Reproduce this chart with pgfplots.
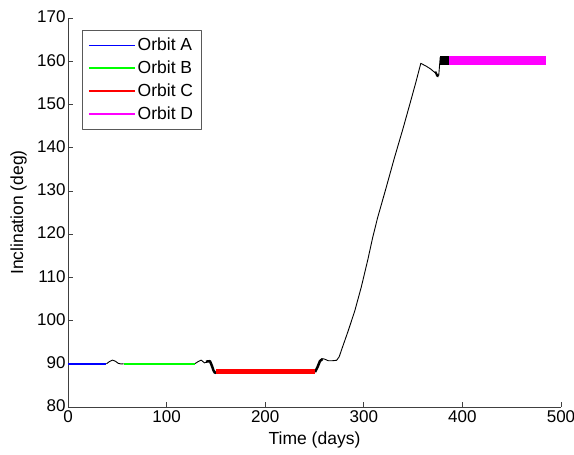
\documentclass[border=0pt]{standalone}
\usepackage{pgfplots}
\pgfplotsset{compat=1.18}
\usepackage{fontspec}
\setmainfont{Liberation Sans}
\definecolor{oA}{rgb}{0,0,1}
\definecolor{oB}{rgb}{0,1,0}
\definecolor{oC}{rgb}{1,0,0}
\definecolor{oD}{rgb}{1,0,1}
\begin{document}
\begin{tikzpicture}[font=\fontsize{17.5}{21}\selectfont]
\begin{axis}[
  scale only axis,
  width=493pt, height=389pt,
  xmin=0, xmax=500, ymin=80, ymax=170,
  clip=false,
  xtick={0,100,...,500}, ytick={80,90,...,170},
  axis x line*=bottom, axis y line*=left,
  axis line style={black!75},
  tick style={black!75, line width=0.6pt},
  major tick length=5pt,
  tick align=inside,
  /pgf/number format/assume math mode=true,
  ticklabel style={font=\fontsize{17}{20}\selectfont},
  xticklabel style={yshift=0pt},
  yticklabel style={xshift=1pt, yshift=1pt},
  label style={font=\fontsize{17.5}{21}\selectfont},
  xlabel={Time (days)},
  ylabel={Inclination (deg)},
  xlabel style={at={(axis description cs:0.5,-0.0848)}, anchor=center},
  ylabel style={at={(axis description cs:-0.1,0.5)}, anchor=center, rotate=0},
  legend style={at={(14/493,1-12/389)}, anchor=north west, draw=black!65,
    font=\fontsize{17.5}{21}\selectfont, inner xsep=6pt, inner ysep=6pt,
    row sep=4.7pt, cells={anchor=west}},
  legend image code/.code={\draw[#1, line width=1.5pt] (0pt,0pt) -- (46pt,0pt);},
  line cap=butt, line join=round,
]
\coordinate (O) at (rel axis cs:0,0);
% transfers (black)
\addplot[draw=black, line width=0.9pt, forget plot] coordinates {
 (39,90) (42,90.5) (45,90.85) (48,90.6) (51,90.1) (54,89.95) (56.5,90)};
\addplot[draw=black, line width=0.9pt, forget plot] coordinates {
 (128.5,90) (132,90.5) (135,90.85) (138.5,90.2) (141,90.5)};
\addplot[draw=black, line width=2.5pt, forget plot] coordinates {
 (140,90.5) (144,90.6) (146,89.5) (147.5,88.5) (149,87.9) (150.5,88.0)};
\addplot[draw=black, line width=2.5pt, forget plot] coordinates {
 (250.5,88.1) (253,89.2) (255.5,90.6) (258,91.1)};
\addplot[draw=black, line width=0.9pt, forget plot] coordinates {
 (257.4,91.2) (260,91.1) (264,90.7) (268,90.7) (272.4,90.8)
 (275,91.6) (277.4,93.2) (284,97.5) (290.8,102.2) (297.5,107.8)
 (304,114) (309,119.2) (314,123.8) (322,130.2) (331,137.6)
 (340,144.6) (347.7,150.9) (353,155.3) (357.8,159.5) (363,158.9)
 (367.8,158.2) (372,157.4) (376,156.7) (377.5,160.9)};
\addplot[draw=black, line width=2pt, forget plot] coordinates {
 (372.5,157.6) (374.5,156.6) (375.8,156.5)};
\addplot[draw=black, line width=9pt, forget plot] coordinates {
 (377.5,160.2) (386.2,160.2)};
% Orbit A
\addplot[draw=oA, line width=1.5pt] coordinates {(0,90) (39,90)};
\addlegendentry{Orbit A}
% Orbit B
\addplot[draw=oB, line width=1.5pt] coordinates {(56.5,90) (128.5,90)};
\addlegendentry{Orbit B}
% Orbit C
\addplot[draw=oC, line width=5pt] coordinates {(150.3,88.1) (250.5,88.1)};
\addlegendentry{Orbit C}
% Orbit D
\addplot[draw=oD, line width=9pt] coordinates {(386,160.2) (485,160.2)};
\addlegendentry{Orbit D}
\end{axis}
\pgfresetboundingbox
\path[use as bounding box] ([shift={(-68pt,-48pt)}]O) rectangle ([shift={(506pt,407pt)}]O);
\end{tikzpicture}
\end{document}
